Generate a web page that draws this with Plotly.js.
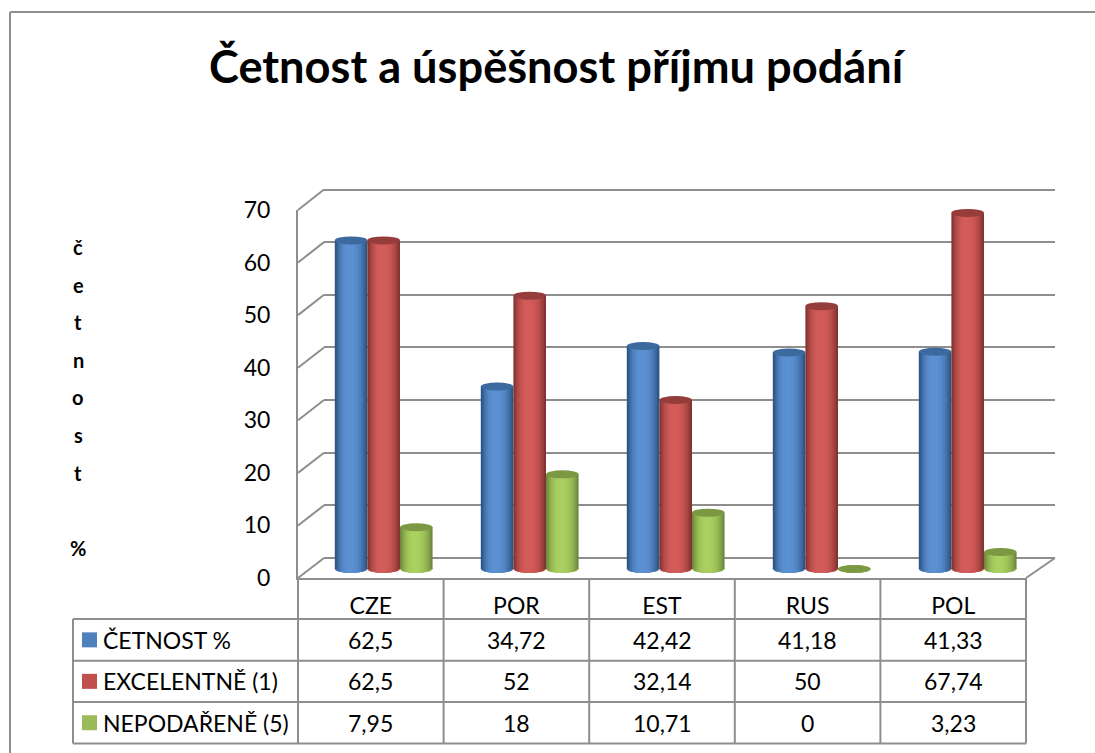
<!DOCTYPE html>
<html><head><meta charset="utf-8">
<script src="https://cdn.plot.ly/plotly-3.0.1.min.js"></script>
<style>html,body{margin:0;padding:0;background:#fff}</style>
</head><body><div id="chart" style="width:1095px;height:753px"></div>
<script>
const categories = ['CZE','POR','EST','RUS','POL'];
const seriesNames = ['ČETNOST %','EXCELENTNĚ (1)','NEPODAŘENĚ (5)'];
const cetnost = [62.5,34.72,42.42,41.18,41.33];
const excelentne = [62.5,52,32.14,50,67.74];
const nepodarene = [7.95,18,10.71,0,3.23];
const yTicks = [0,10,20,30,40,50,60,70];
const axisLetters = ['č','e','t','n','o','s','t','','%'];
const chartTitle = 'Četnost a úspěšnost příjmu podání';

const W=1095,H=753,FONT='Lato, Carlito, Calibri, sans-serif',GRID='#8e8e8e',INK='#000',TABLE_SIZE=23;
const allSeries=[cetnost,excelentne,nepodarene];
const palette=[
 {dark:'#2c5583',bright:'#5b90d2',top:'#3c6a9f',key:'#4f81bd'},
 {dark:'#843331',bright:'#d35c59',top:'#953d3a',key:'#c0504d'},
 {dark:'#6f8a3c',bright:'#a9d060',top:'#7c9843',key:'#9bbb59'}];
const px=a=>a/W, py=a=>1-a/H;
const hex=c=>[1,3,5].map(i=>parseInt(c.substr(i,2),16));
const mix=(a,b,t)=>{const A=hex(a),B=hex(b);return 'rgb('+A.map((v,i)=>Math.round(v+(B[i]-v)*t)).join(',')+')'};

// geometry of the three parallel planes
const back={l:324,r:1055,t:189.5,b:558,pad:5.26};
const front={l:298,r:1026,t:210,b:578};
const barsPlane={l:310.7,r:1040.7,t:190,b:583,zero:569,unit:5.257};
const barW=32.6/146, capPx=4, capY=capPx/barsPlane.unit, LAYERS=9;

const traces=[
 {type:'scatter',x:categories,y:categories.map(()=>null),xaxis:'x',yaxis:'y',hoverinfo:'skip',showlegend:false},
 {type:'scatter',x:categories,y:categories.map(()=>null),xaxis:'x2',yaxis:'y2',hoverinfo:'skip',showlegend:false}];
const shapes=[];
const line=(x0,y0,x1,y1,w)=>shapes.push({type:'line',xref:'paper',yref:'paper',x0:px(x0),x1:px(x1),y0:py(y0),y1:py(y1),line:{color:GRID,width:w||2}});

allSeries.forEach((vals,j)=>{
  const start=-1.5*barW+j*barW,c=palette[j];
  vals.forEach((v,i)=>{
    shapes.push({type:'circle',xref:'x3',yref:'y3',layer:'below',x0:i+start,x1:i+start+barW,
      y0:-capY,y1:capY,fillcolor:mix(c.dark,c.bright,0.72),line:{width:0}});
  });
  for(let k=0;k<LAYERS;k++){
    const f=k/(LAYERS-1), t=1-Math.pow(1-f,2.4);
    const l=0.42*f*0.98, r=1-0.50*f;
    const ex=Math.max(Math.abs(2*l-1),Math.abs(2*r-1));
    const h=capY*Math.sqrt(Math.max(0,1-ex*ex));
    traces.push({type:'bar',x:categories,y:vals.map(v=>v+h),base:h?vals.map(()=>-h):undefined,
      xaxis:'x3',yaxis:'y3',offset:start+l*barW,width:(r-l)*barW,
      marker:{color:mix(c.dark,c.bright,t),line:{width:0}},hoverinfo:'skip',showlegend:false});
  }
  vals.forEach((v,i)=>{
    shapes.push({type:'circle',xref:'x3',yref:'y3',layer:'above',x0:i+start,x1:i+start+barW,
      y0:v-capY,y1:v+capY,fillcolor:c.top,line:{width:0}});
  });
});

// side wall and floor edges
yTicks.forEach(v=>{
  const yF=front.b-(front.b-front.t)*v/70,yB=back.b-(back.b-back.t)*v/70;
  line(front.l,yF,back.l,yB);
});
line(front.r,front.b,back.r,back.b);

// data table
const rowY=[578,619,660.7,702,743.5],tableLeft=73,colW=(front.r-front.l)/5;
for(let i=1;i<rowY.length;i++) line(tableLeft,rowY[i],front.r,rowY[i]);
line(tableLeft,rowY[1],tableLeft,rowY[4]);
for(let i=0;i<=5;i++) line(front.l+i*colW,front.b,front.l+i*colW,rowY[4]);
// outer frame
line(10,12,W,12); line(10,12,10,H);

const annotations=[];
const note=(text,x,y,anchor,size,bold)=>annotations.push({text:bold?'<b>'+text+'</b>':text,xref:'paper',yref:'paper',x:px(x),y:py(y),
  xanchor:anchor,yanchor:'middle',showarrow:false,font:{family:FONT,size:size,color:INK}});
seriesNames.forEach((name,j)=>{
  const yc=(rowY[j+1]+rowY[j+2])/2;
  shapes.push({type:'rect',xref:'paper',yref:'paper',x0:px(82),x1:px(97),y0:py(yc-7.5),y1:py(yc+7.5),fillcolor:palette[j].key,line:{width:0}});
  note(name,101,yc,'left',TABLE_SIZE);
  allSeries[j].forEach((v,i)=>note(String(v).replace('.',','),front.l+(i+0.5)*colW,yc,'center',TABLE_SIZE));
});
axisLetters.forEach((ch,i)=>{ if(ch) note(ch,78,247+i*37.6,'center',20,true); });
note(chartTitle,557.5,65,'center',45.2,true);

const hidden={showgrid:false,zeroline:false,showticklabels:false,ticks:'',showline:false};
const layout={width:W,height:H,margin:{l:0,r:0,t:0,b:0},paper_bgcolor:'#fff',plot_bgcolor:'rgba(0,0,0,0)',
  barmode:'overlay',showlegend:false,shapes,annotations,
  xaxis:{...hidden,domain:[px(back.l),px(back.r)],anchor:'y',range:[-0.5,4.5]},
  yaxis:{domain:[py(back.b+back.pad),py(back.t-back.pad)],anchor:'x',range:[-1,71],tickvals:yTicks,showgrid:true,gridcolor:GRID,gridwidth:2,zeroline:false,showticklabels:false,ticks:'',showline:false},
  xaxis2:{domain:[px(front.l),px(front.r)],anchor:'y2',range:[-0.5,4.5],type:'category',showgrid:false,zeroline:false,showline:true,linecolor:GRID,linewidth:2,ticks:'',
    tickfont:{family:FONT,size:TABLE_SIZE,color:INK},ticklabelstandoff:6},
  yaxis2:{domain:[py(front.b),py(front.t)],anchor:'x2',range:[0,70],tickvals:yTicks,showgrid:false,zeroline:false,showline:true,linecolor:GRID,linewidth:2,ticks:'',
    tickfont:{family:FONT,size:TABLE_SIZE,color:INK},ticklabelstandoff:21},
  xaxis3:{...hidden,domain:[px(barsPlane.l),px(barsPlane.r)],anchor:'y3',type:'category',range:[-0.5,4.5]},
  yaxis3:{...hidden,domain:[py(barsPlane.b),py(barsPlane.t)],anchor:'x3',
    range:[(barsPlane.zero-barsPlane.b)/barsPlane.unit,(barsPlane.zero-barsPlane.t)/barsPlane.unit]}
};
Plotly.newPlot('chart',traces,layout,{displayModeBar:false,staticPlot:true});
</script></body></html>
